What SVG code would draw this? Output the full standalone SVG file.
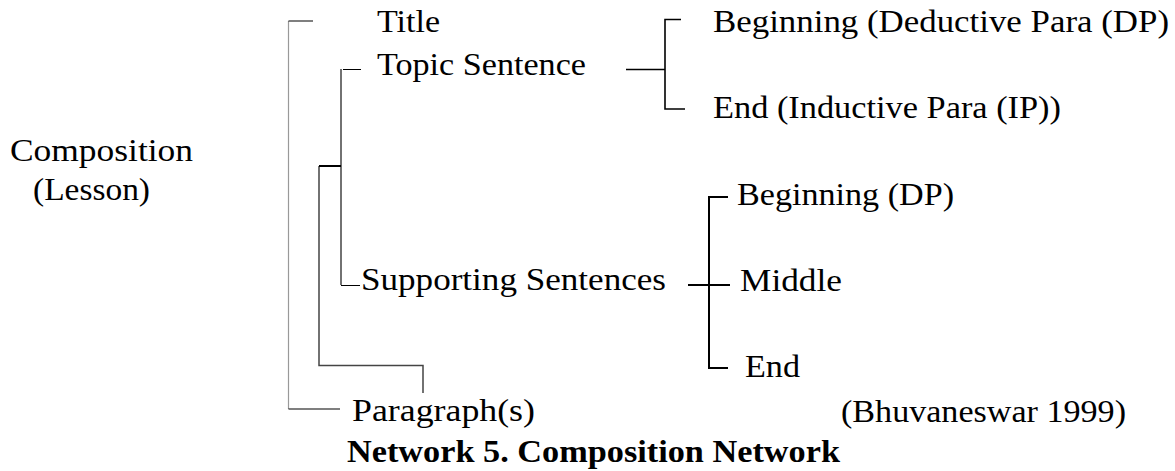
<svg xmlns="http://www.w3.org/2000/svg" width="1175" height="471" viewBox="0 0 1175 471">
<style>
.t{font-family:"Liberation Serif","Times New Roman",serif;font-size:30.5px;fill:#000}
.b{font-family:"Liberation Serif","Times New Roman",serif;font-size:30.5px;font-weight:bold;fill:#000}
.l{fill:none;stroke:#000;stroke-width:1.2}
.g{fill:none;stroke:#999;stroke-width:1.2}
.d{fill:none;stroke:#444;stroke-width:1.5}
.k{fill:none;stroke:#000;stroke-width:2}
</style>
<rect width="1175" height="471" fill="#fff"/>
<g id="connectors">
<path class="g" d="M288.5,21 V409"/>
<path class="l" d="M313,21 H288.5 M288.5,409 H340"/>
<path class="d" d="M341,69 V285 M319,166 V365.5 H423 V393"/>
<path class="l" d="M343,69.5 H361 M341,285.5 H360"/>
<path class="k" d="M319,166 H341"/>
<path class="k" d="M626,69.5 H665 M681,19.5 H665 V109 H685" style="stroke-width:1.6"/>
<path class="k" d="M688,285 H730 M728,197 H709 V368 H728"/>
</g>
<g id="composition"><text class="t" x="10" y="161" textLength="183" lengthAdjust="spacingAndGlyphs">Composition</text>
<text class="t" x="33" y="200" textLength="117" lengthAdjust="spacingAndGlyphs">(Lesson)</text></g>
<g id="title"><text class="t" x="377" y="32" textLength="63" lengthAdjust="spacingAndGlyphs">Title</text></g>
<g id="topic"><text class="t" x="377" y="75" textLength="209" lengthAdjust="spacingAndGlyphs">Topic Sentence</text></g>
<g id="topic-begin"><text class="t" x="713" y="32" textLength="456" lengthAdjust="spacingAndGlyphs">Beginning (Deductive Para (DP)</text></g>
<g id="topic-end"><text class="t" x="713" y="118" textLength="348" lengthAdjust="spacingAndGlyphs">End (Inductive Para (IP))</text></g>
<g id="supporting"><text class="t" x="361" y="290" textLength="305" lengthAdjust="spacingAndGlyphs">Supporting Sentences</text></g>
<g id="sup-begin"><text class="t" x="737" y="205" textLength="217" lengthAdjust="spacingAndGlyphs">Beginning (DP)</text></g>
<g id="sup-middle"><text class="t" x="740" y="291" textLength="102" lengthAdjust="spacingAndGlyphs">Middle</text></g>
<g id="sup-end"><text class="t" x="745" y="377" textLength="55" lengthAdjust="spacingAndGlyphs">End</text></g>
<g id="paragraphs"><text class="t" x="352" y="421" textLength="183" lengthAdjust="spacingAndGlyphs">Paragraph(s)</text></g>
<g id="source"><text class="t" x="841" y="422" textLength="285" lengthAdjust="spacingAndGlyphs">(Bhuvaneswar 1999)</text></g>
<g id="caption"><text class="b" x="347" y="462" textLength="493" lengthAdjust="spacingAndGlyphs">Network 5. Composition Network</text></g>
</svg>
